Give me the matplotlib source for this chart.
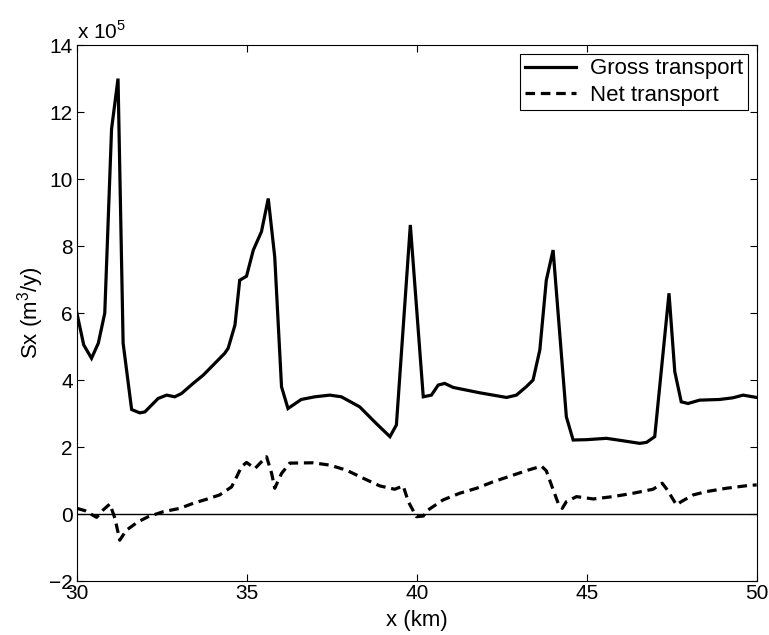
import matplotlib
matplotlib.use('Agg')
import matplotlib.pyplot as plt
import numpy as np

plt.rcParams['font.family'] = ['Liberation Sans', 'DejaVu Sans']
plt.rcParams['mathtext.fontset'] = 'custom'
plt.rcParams['mathtext.rm'] = 'Liberation Sans'

# 总输沙量 (gross transport), 单位 1e5 m3/y
x_gross = [30.0, 30.2, 30.43, 30.63, 30.82, 31.02, 31.21, 31.36, 31.61, 31.85, 32.0,
           32.39, 32.64, 32.88, 33.08, 33.42, 33.72, 34.06, 34.35, 34.45, 34.65, 34.79,
           34.99, 35.19, 35.43, 35.63, 35.82, 36.02, 36.21, 36.6, 37.0, 37.44, 37.78,
           38.32, 38.81, 39.21, 39.4, 39.81, 40.19, 40.43, 40.63, 40.82, 41.07, 41.85,
           42.64, 42.93, 43.22, 43.42, 43.62, 43.81, 44.01, 44.4, 44.6, 45.0, 45.58,
           45.98, 46.56, 46.76, 47.0, 47.42, 47.59, 47.78, 47.98, 48.32, 48.91, 49.3,
           49.6, 50.0]
y_gross = [6.0, 5.05, 4.65, 5.1, 6.0, 11.5, 13.0, 5.1, 3.12, 3.02, 3.05,
           3.45, 3.55, 3.5, 3.6, 3.9, 4.15, 4.5, 4.8, 4.95, 5.64, 6.98,
           7.1, 7.88, 8.43, 9.42, 7.68, 3.8, 3.15, 3.42, 3.5, 3.55, 3.5,
           3.2, 2.7, 2.31, 2.66, 8.63, 3.5, 3.55, 3.85, 3.9, 3.78, 3.62,
           3.48, 3.55, 3.8, 4.0, 4.9, 6.98, 7.88, 2.9, 2.21, 2.22, 2.26,
           2.2, 2.11, 2.14, 2.31, 6.59, 4.25, 3.35, 3.3, 3.4, 3.42, 3.47,
           3.55, 3.48]

# 净输沙量 (net transport)
x_net = [30.0, 30.24, 30.58, 30.77, 30.97, 31.12, 31.26, 31.46, 31.8, 32.1, 32.54,
         33.03, 33.42, 33.81, 34.2, 34.55, 34.7, 34.84, 34.99, 35.24, 35.43, 35.58,
         35.73, 35.82, 36.02, 36.26, 36.95, 37.44, 37.93, 38.42, 38.91, 39.35, 39.6,
         39.75, 39.99, 40.19, 40.33, 40.77, 41.26, 41.76, 42.24, 42.74, 43.27, 43.67,
         43.81, 43.96, 44.16, 44.28, 44.4, 44.7, 45.19, 45.77, 46.36, 46.95, 47.22,
         47.37, 47.64, 47.78, 48.13, 48.52, 49.11, 49.74, 50.0]
y_net = [0.17, 0.1, -0.1, 0.12, 0.3, -0.13, -0.78, -0.48, -0.23, -0.08, 0.07,
         0.17, 0.32, 0.44, 0.57, 0.81, 1.11, 1.41, 1.54, 1.36, 1.56, 1.71,
         1.21, 0.77, 1.21, 1.52, 1.53, 1.46, 1.31, 1.07, 0.84, 0.74, 0.84,
         0.37, -0.08, -0.06, 0.12, 0.42, 0.62, 0.77, 0.96, 1.13, 1.31, 1.43,
         1.29, 0.87, 0.32, 0.17, 0.37, 0.52, 0.45, 0.52, 0.62, 0.74, 0.92,
         0.72, 0.27, 0.37, 0.57, 0.67, 0.77, 0.85, 0.87]

x_ticks = [30, 35, 40, 45, 50]
y_ticks = [-2, 0, 2, 4, 6, 8, 10, 12, 14]

fig = plt.figure(figsize=(7.69, 6.35), dpi=100)
ax = fig.add_axes([0.100, 0.085, 0.884, 0.844])

ax.plot(x_gross, y_gross, color='black', linewidth=2.3, label='Gross transport',
        solid_joinstyle='miter')
ax.plot(x_net, y_net, color='black', linewidth=2.3, linestyle=(0, (3, 1.8)),
        label='Net transport')
ax.axhline(0, color='black', linewidth=1.0)

ax.set_xlim(30, 50)
ax.set_ylim(-2, 14)
ax.set_xticks(x_ticks)
ax.set_yticks(y_ticks)
ax.tick_params(direction='in', top=True, right=True, labelsize=15, length=5, width=0.8)
ax.tick_params(axis='x', pad=2)
ax.tick_params(axis='y', pad=3)
for s in ax.spines.values():
    s.set_linewidth(0.8)

ax.set_xlabel('x (km)', fontsize=16, labelpad=5)
ax.set_ylabel('Sx (m$^3$/y)', fontsize=16, labelpad=2)
ax.text(0.0, 1.005, 'x 10$^5$', transform=ax.transAxes, fontsize=15,
        ha='left', va='bottom')

leg = ax.legend(loc='upper right', fontsize=16, fancybox=False, framealpha=1,
                edgecolor='black', handlelength=2.3, borderaxespad=0.4,
                borderpad=0.2, labelspacing=0.24, handletextpad=0.65)
leg.get_frame().set_linewidth(0.8)

fig.savefig('out.png', dpi=100, facecolor='white')
